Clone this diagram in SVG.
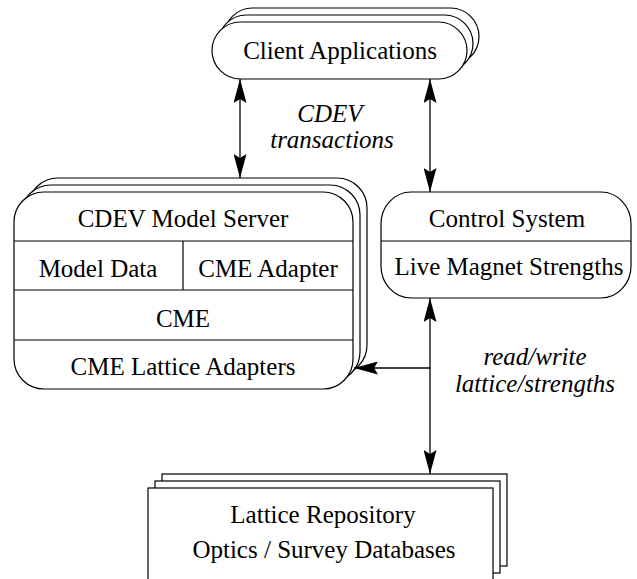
<svg xmlns="http://www.w3.org/2000/svg" width="637" height="579" viewBox="0 0 637 579">
  <defs>
    <style>
      .box { fill: #fff; stroke: #000; stroke-width: 1.2; }
      .sep { fill: none; stroke: #000; stroke-width: 1.2; }
      .lbl { font-size: 25px; fill: #000; text-anchor: middle; }
      .it { font-size: 25px; font-style: italic; fill: #000; text-anchor: middle; }
      .conn { fill: none; stroke: #000; stroke-width: 1.3; }
    </style>
    <marker id="arr" viewBox="0 0 24 13" refX="24" refY="6.5" markerWidth="24" markerHeight="13" markerUnits="userSpaceOnUse" orient="auto-start-reverse">
      <path d="M0,0 L24,6.5 L0,13 L4,6.5 Z" fill="#000"/>
    </marker>
  </defs>
  <rect width="637" height="579" fill="#fff"/>

  <g id="client-applications">
    <rect class="box" x="224" y="8" width="255" height="57" rx="28.5"/>
    <rect class="box" x="218" y="15" width="255" height="57" rx="28.5"/>
    <rect class="box" x="212" y="22" width="255" height="57" rx="28.5"/>
    <text class="lbl" font-family="Liberation Serif, DejaVu Serif, serif" x="340" y="59">Client Applications</text>
  </g>

  <g id="cdev-model-server" font-family="Liberation Serif, DejaVu Serif, serif">
    <rect class="box" x="28" y="178" width="339" height="197" rx="30"/>
    <rect class="box" x="21" y="185" width="339" height="197" rx="30"/>
    <rect class="box" x="14" y="192" width="339" height="197" rx="30"/>
    <line class="sep" x1="14" y1="241" x2="353" y2="241"/>
    <line class="sep" x1="14" y1="290" x2="353" y2="290"/>
    <line class="sep" x1="14" y1="340" x2="353" y2="340"/>
    <line class="sep" x1="183" y1="241" x2="183" y2="290"/>
    <text class="lbl" x="183" y="227">CDEV Model Server</text>
    <text class="lbl" x="98" y="277">Model Data</text>
    <text class="lbl" x="268" y="277">CME Adapter</text>
    <text class="lbl" x="183" y="327">CME</text>
    <text class="lbl" x="183" y="375">CME Lattice Adapters</text>
  </g>

  <g id="control-system" font-family="Liberation Serif, DejaVu Serif, serif">
    <rect class="box" x="381" y="192" width="250" height="106" rx="30" ry="32"/>
    <line class="sep" x1="381" y1="241" x2="631" y2="241"/>
    <text class="lbl" x="507" y="227">Control System</text>
    <text class="lbl" x="509" y="275">Live Magnet Strengths</text>
  </g>

  <g id="lattice-repository" font-family="Liberation Serif, DejaVu Serif, serif">
    <rect class="box" x="162" y="474" width="345" height="92"/>
    <rect class="box" x="155" y="481" width="345" height="92"/>
    <rect class="box" x="148" y="488" width="345" height="110"/>
    <text class="lbl" x="323" y="523">Lattice Repository</text>
    <text class="lbl" x="324" y="558">Optics / Survey Databases</text>
  </g>

  <g id="connectors" font-family="Liberation Serif, DejaVu Serif, serif">
    <line class="conn" x1="240" y1="79" x2="240" y2="178" marker-start="url(#arr)" marker-end="url(#arr)"/>
    <line class="conn" x1="430" y1="79" x2="430" y2="192" marker-start="url(#arr)" marker-end="url(#arr)"/>
    <line class="conn" x1="430" y1="298" x2="430" y2="474" marker-start="url(#arr)" marker-end="url(#arr)"/>
    <line class="conn" x1="430" y1="368" x2="354" y2="368" marker-end="url(#arr)"/>
    <text class="it" x="330" y="122">CDEV</text>
    <text class="it" x="332" y="148">transactions</text>
    <text class="it" x="535" y="365">read/write</text>
    <text class="it" x="535" y="392">lattice/strengths</text>
  </g>
</svg>
